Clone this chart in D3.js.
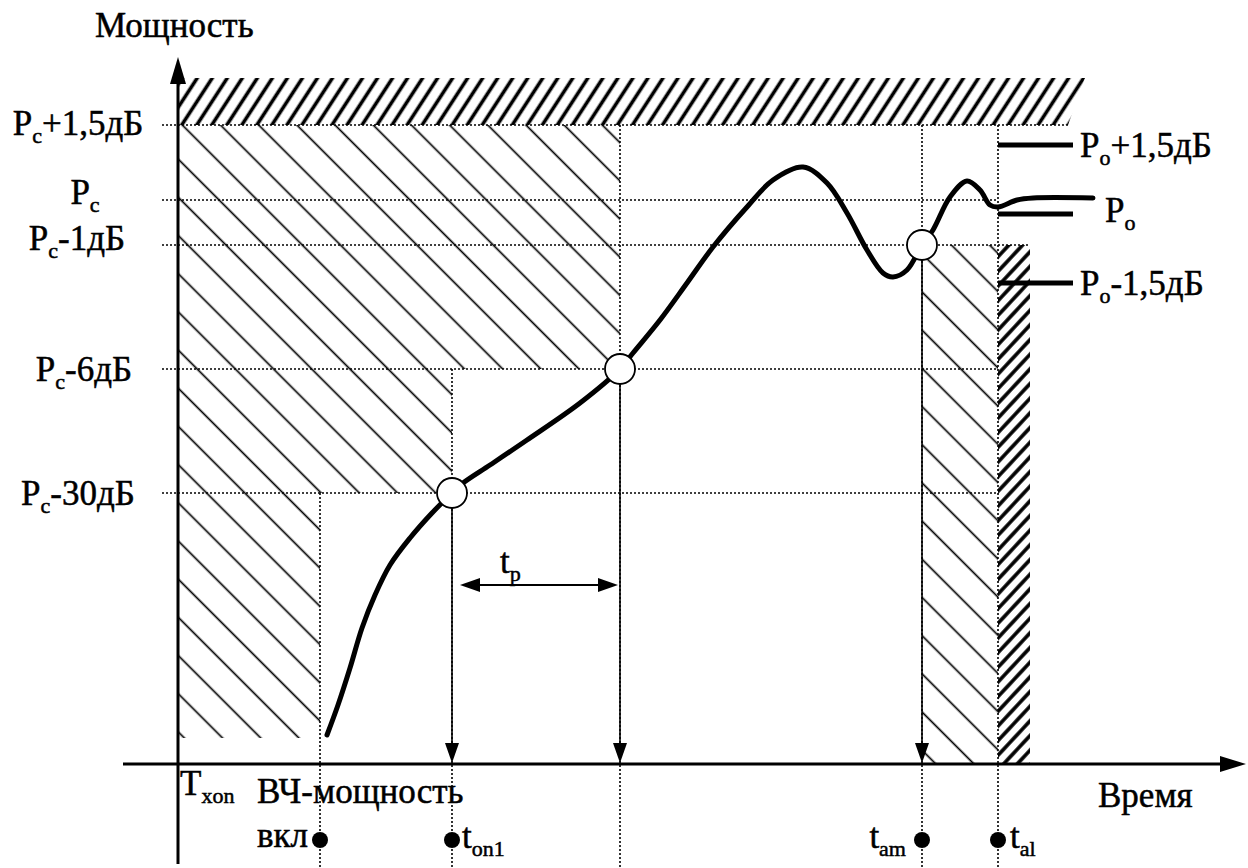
<!DOCTYPE html>
<html><head><meta charset="utf-8">
<script src="https://cdn.jsdelivr.net/npm/d3@7"></script>
<style>html,body{margin:0;padding:0;background:#fff;}svg{display:block;}</style>
</head><body>
<svg id="c" width="1248" height="868"></svg>
<script>
// ---- data (time units / power units of the schematic) ----
const levelNames = ["Pc+1,5", "Pc", "Pc-1", "Pc-6", "Pc-30"];
const levelValues = [63.9, 56.4, 51.9, 39.5, 27.1];
const levelLabelMain = ["P", "P", "P", "P", "P"];
const levelLabelSub = ["c", "c", "c", "c", "c"];
const levelLabelRest = ["+1,5дБ", "", "-1дБ", "-6дБ", "-30дБ"];

const markNames = ["вкл", "ton1", "tr", "tam", "tal"];
const markTimes = [14.2, 27.4, 44.2, 74.4, 82.0];

const curveT = [14.9, 16.0, 17.2, 18.4, 19.7, 21.2, 23.2, 25.4, 27.4, 28.5, 31.2, 34.9, 40.2, 44.2, 45.5, 48.2, 50.9, 53.5, 56.9, 59.5, 62.5, 64.9, 66.9, 68.9, 70.5, 71.5, 72.9, 74.4, 75.5, 77.2, 78.9, 80.2, 81.2, 82.0, 83.9, 85.5, 91.5];
const curveP = [2.9, 5.9, 9.6, 13.6, 16.9, 19.9, 22.6, 25.1, 27.1, 28.1, 29.9, 32.4, 36.1, 39.5, 41.1, 44.4, 48.1, 51.7, 55.7, 58.4, 59.7, 58.1, 55.1, 51.4, 49.1, 48.7, 49.4, 51.9, 53.4, 56.7, 58.3, 57.4, 55.9, 55.7, 56.4, 56.6, 56.6];

const pointNames = ["Pc-30", "Pc-6", "Pc-1"];
const pointT = [27.4, 44.2, 74.4];
const pointP = [27.1, 39.5, 51.9];

const poNames = ["Po+1,5дБ", "Po", "Po-1,5дБ"];
const poValues = [61.9, 55.0, 48.1];
const poLineEnd = 89.5;

const topBandP = [63.9, 68.6];
const topBandT = [90.7, 89.0];
const rightBandEnd = 85.2;
const leftHatchBottom = 2.6;

// label layout (pixels)
const levelLabelX = [78, 85, 77, 84, 78];
const levelLabelDy = [10, 4, 5, 12, 12];

// ---- scales ----
const svg = d3.select("#c");
const x = d3.scaleLinear().domain([0, 107]).range([178, 1248]);
const y = d3.scaleLinear().domain([0, 70]).range([764, 64]);
const FONT = "'Liberation Serif','Times New Roman',serif";

// ---- patterns ----
const defs = svg.append("defs");
function hatch(id, spacing, angle, width) {
  const p = defs.append("pattern").attr("id", id).attr("patternUnits", "userSpaceOnUse")
    .attr("width", spacing).attr("height", spacing)
    .attr("patternTransform", `rotate(${angle})`);
  p.append("line").attr("x1", -2).attr("x2", spacing + 2)
    .attr("y1", spacing / 2).attr("y2", spacing / 2)
    .attr("stroke", "#000").attr("stroke-width", width);
}
hatch("thin", 27, 45, 1.7);
hatch("thickTop", 12.6, -57, 3.6);
hatch("thickRight", 10, -47, 3.6);

const poly = pts => "M" + pts.map(d => x(d[0]) + "," + y(d[1])).join("L") + "Z";

// left staircase hatch
svg.append("path").attr("fill", "url(#thin)").attr("d", poly([
  [0, levelValues[0]], [markTimes[2], levelValues[0]], [markTimes[2], levelValues[3]],
  [markTimes[1], levelValues[3]], [markTimes[1], levelValues[4]], [markTimes[0], levelValues[4]],
  [markTimes[0], leftHatchBottom], [0, leftHatchBottom]]));
// top band hatch
svg.append("path").attr("fill", "url(#thickTop)").attr("d", poly([
  [0, topBandP[0]], [0, topBandP[1]], [topBandT[0], topBandP[1]], [topBandT[1], topBandP[0]]]));
// right thin hatch
svg.append("path").attr("fill", "url(#thin)").attr("d", poly([
  [markTimes[3], levelValues[2]], [markTimes[4], levelValues[2]], [markTimes[4], 0], [markTimes[3], 0]]));
// right thick hatch
svg.append("path").attr("fill", "url(#thickRight)").attr("d", poly([
  [markTimes[4], levelValues[2]], [rightBandEnd, levelValues[2]], [rightBandEnd, 0], [markTimes[4], 0]]));

// ---- dotted grid ----
const dotted = (x1, y1, x2, y2) => svg.append("line").attr("x1", x1).attr("y1", y1).attr("x2", x2).attr("y2", y2)
  .attr("stroke", "#000").attr("stroke-width", 1.6).attr("stroke-dasharray", "2,2");
const hEnds = [topBandT[1], markTimes[4], rightBandEnd, markTimes[4], markTimes[4]];
levelValues.forEach((v, i) => dotted(162, y(v), x(hEnds[i]), y(v)));
// vertical dotted
dotted(x(markTimes[0]), y(levelValues[4]), x(markTimes[0]), 868);
dotted(x(markTimes[1]), y(levelValues[3]), x(markTimes[1]), 868);
dotted(x(markTimes[2]), y(levelValues[0]), x(markTimes[2]), 868);
dotted(x(markTimes[3]), y(levelValues[0]), x(markTimes[3]), 868);
dotted(x(markTimes[4]), y(levelValues[0]), x(markTimes[4]), 868);

// ---- axes ----
svg.append("line").attr("x1", x(0)).attr("y1", 80).attr("x2", x(0)).attr("y2", 864)
  .attr("stroke", "#000").attr("stroke-width", 3);
svg.append("path").attr("d", `M${x(0)},57L${x(0) - 8},84L${x(0) + 8},84Z`).attr("fill", "#000");
svg.append("line").attr("x1", 123).attr("y1", y(0)).attr("x2", 1222).attr("y2", y(0))
  .attr("stroke", "#000").attr("stroke-width", 3);
svg.append("path").attr("d", `M1246,${y(0)}L1220,${y(0) - 8}L1220,${y(0) + 8}Z`).attr("fill", "#000");

// ---- vertical arrows from points to time axis ----
pointT.forEach((t, i) => {
  const px = x(t);
  svg.append("line").attr("x1", px).attr("y1", y(pointP[i]) + 14).attr("x2", px).attr("y2", y(0) - 18)
    .attr("stroke", "#000").attr("stroke-width", 1.6);
  svg.append("path").attr("d", `M${px},${y(0) - 1}L${px - 7},${y(0) - 21}L${px + 7},${y(0) - 21}Z`).attr("fill", "#000");
});

// tp double arrow
const tpY = 585;
const ax1 = x(pointT[0]) + 8, ax2 = x(pointT[1]) - 2;
svg.append("line").attr("x1", ax1 + 16).attr("x2", ax2 - 16).attr("y1", tpY).attr("y2", tpY)
  .attr("stroke", "#000").attr("stroke-width", 1.8);
svg.append("path").attr("d", `M${ax1},${tpY}L${ax1 + 20},${tpY - 7}L${ax1 + 20},${tpY + 7}Z`).attr("fill", "#000");
svg.append("path").attr("d", `M${ax2},${tpY}L${ax2 - 20},${tpY - 7}L${ax2 - 20},${tpY + 7}Z`).attr("fill", "#000");

// ---- Po reference lines ----
poValues.forEach(v => svg.append("line").attr("x1", x(markTimes[4])).attr("x2", x(poLineEnd))
  .attr("y1", y(v)).attr("y2", y(v)).attr("stroke", "#000").attr("stroke-width", 5));

// ---- curve ----
const pts = curveT.map((t, i) => [t, curveP[i]]);
svg.append("path").attr("d", d3.line().x(d => x(d[0])).y(d => y(d[1])).curve(d3.curveCatmullRom.alpha(0.5))(pts))
  .attr("fill", "none").attr("stroke", "#000").attr("stroke-width", 5).attr("stroke-linecap", "round");

// ---- circles ----
pointT.forEach((t, i) => svg.append("circle").attr("cx", x(t)).attr("cy", y(pointP[i])).attr("r", 15)
  .attr("fill", "#fff").attr("stroke", "#000").attr("stroke-width", 1.8));

// ---- text ----
function label(px, py, parts, anchor) {
  const t = svg.append("text").attr("x", px).attr("y", py).attr("font-family", FONT)
    .attr("font-size", 35).attr("fill", "#000").attr("stroke", "#000").attr("stroke-width", 0.5)
    .attr("text-anchor", anchor || "start");
  parts.forEach(p => {
    if (p.sub) t.append("tspan").attr("font-size", 22).attr("dy", 8).text(p.sub);
    else t.append("tspan").attr("dy", p.after ? -8 : 0).text(p.text);
  });
  return t;
}
levelValues.forEach((v, i) => {
  const parts = [{ text: levelLabelMain[i] }, { sub: levelLabelSub[i] }];
  if (levelLabelRest[i]) parts.push({ text: levelLabelRest[i], after: true });
  label(levelLabelX[i], y(v) + levelLabelDy[i], parts, "middle");
});
label(95, 37, [{ text: "Мощность" }]);
label(1098, 807, [{ text: "Время" }]);
label(180, 795, [{ text: "T" }, { sub: "xon" }]);
label(257, 803, [{ text: "ВЧ-мощность" }]);
label(257, 847, [{ text: "вкл" }]);
label(462, 848, [{ text: "t" }, { sub: "on1" }]);
label(906, 848, [{ text: "t" }, { sub: "am" }], "end");
label(1010, 848, [{ text: "t" }, { sub: "al" }]);
label(500, 573, [{ text: "t" }, { sub: "p" }]);
label(1080, 157, [{ text: "P" }, { sub: "o" }, { text: "+1,5дБ", after: true }]);
label(1105, 222, [{ text: "P" }, { sub: "o" }]);
label(1080, 295, [{ text: "P" }, { sub: "o" }, { text: "-1,5дБ", after: true }]);

// time marker dots
[0, 1, 3, 4].forEach(i => svg.append("circle").attr("cx", x(markTimes[i])).attr("cy", 840).attr("r", 8).attr("fill", "#000"));
</script>
</body></html>
